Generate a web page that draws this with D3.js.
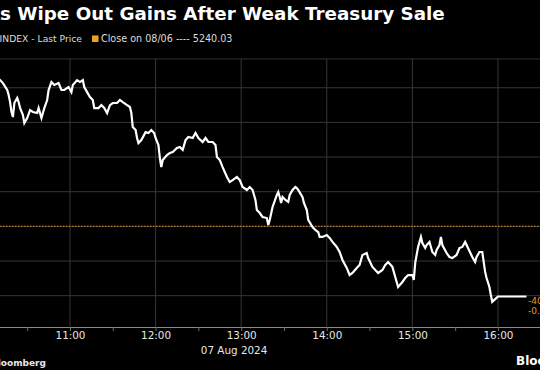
<!DOCTYPE html>
<html lang="en">
<head>
    <meta charset="UTF-8">
    <script src="https://cdnjs.cloudflare.com/ajax/libs/d3/7.8.5/d3.min.js"></script>
    <title>SPX intraday</title>
    <style>
        html, body {
            margin: 0;
            padding: 0;
            background: #000;
            overflow: hidden;
        }
        svg {
            display: block;
            font-family: "DejaVu Sans", sans-serif;
        }
    </style>
</head>
<body>
    <div class="fig"></div>

    <script>
        // Chart data (SPX, 7 Aug 2024, intraday)
        const times = [
            "10:10", "10:11", "10:13", "10:16", "10:17", "10:18", "10:19", "10:20", "10:21", "10:23",
            "10:24", "10:25", "10:27", "10:28", "10:30", "10:32", "10:34", "10:37", "10:38", "10:40",
            "10:41", "10:42", "10:44", "10:45", "10:47", "10:49", "10:52", "10:54", "10:56", "10:59",
            "11:01", "11:02", "11:05", "11:07", "11:09", "11:10", "11:12", "11:14", "11:16", "11:17",
            "11:20", "11:22", "11:24", "11:26", "11:28", "11:30", "11:33", "11:35", "11:37", "11:40",
            "11:42", "11:43", "11:44", "11:46", "11:47", "11:48", "11:50", "11:53", "11:55", "11:57",
            "11:59", "12:00", "12:02", "12:03", "12:04", "12:05", "12:08", "12:10", "12:12", "12:15",
            "12:17", "12:19", "12:21", "12:23", "12:26", "12:28", "12:30", "12:33", "12:35", "12:37",
            "12:40", "12:42", "12:43", "12:45", "12:47", "12:50", "12:52", "12:54", "12:57", "12:59",
            "13:01", "13:04", "13:06", "13:08", "13:10", "13:11", "13:13", "13:15", "13:18", "13:19",
            "13:20", "13:22", "13:25", "13:26", "13:27", "13:28", "13:29", "13:31", "13:33", "13:34",
            "13:36", "13:38", "13:39", "13:40", "13:43", "13:44", "13:46", "13:47", "13:50", "13:52",
            "13:54", "13:55", "13:57", "14:00", "14:02", "14:04", "14:07", "14:09", "14:11", "14:14",
            "14:16", "14:18", "14:21", "14:23", "14:25", "14:28", "14:29", "14:32", "14:34", "14:36",
            "14:39", "14:41", "14:43", "14:46", "14:48", "14:50", "14:53", "14:55", "14:57", "15:00",
            "15:01", "15:02", "15:04", "15:05", "15:06", "15:07", "15:09", "15:10", "15:12", "15:14",
            "15:16", "15:17", "15:19", "15:20", "15:21", "15:24", "15:26", "15:28", "15:31", "15:33",
            "15:35", "15:37", "15:39", "15:42", "15:44", "15:45", "15:47", "15:49", "15:51", "15:52",
            "15:54", "15:55", "15:56", "15:59", "16:00", "16:20"
        ];
        const prices = [
            5325.0, 5324.4, 5322.7, 5318.7, 5315.8, 5311.7, 5306.0, 5303.1, 5311.2, 5314.1,
            5311.7, 5308.3, 5304.2, 5299.6, 5302.5, 5307.1, 5306.0, 5305.4, 5308.3, 5302.5,
            5305.4, 5308.3, 5312.9, 5318.7, 5323.3, 5321.6, 5322.7, 5318.7, 5318.7, 5320.4,
            5317.5, 5321.6, 5324.4, 5323.3, 5324.4, 5320.4, 5317.5, 5314.6, 5312.9, 5308.3,
            5308.3, 5310.0, 5308.3, 5305.4, 5310.0, 5311.2, 5311.2, 5312.9, 5311.7, 5310.0,
            5308.9, 5305.4, 5297.3, 5295.6, 5291.0, 5288.1, 5289.8, 5294.4, 5293.9, 5295.6,
            5293.9, 5291.0, 5286.9, 5279.4, 5274.2, 5278.3, 5281.2, 5282.3, 5282.9, 5285.2,
            5285.8, 5284.1, 5289.8, 5291.6, 5291.0, 5293.9, 5291.0, 5288.7, 5291.0, 5288.7,
            5288.7, 5286.9, 5280.0, 5278.3, 5274.2, 5268.5, 5265.6, 5266.7, 5268.5, 5266.7,
            5262.7, 5261.0, 5262.7, 5261.0, 5255.2, 5249.4, 5247.7, 5245.4, 5244.8, 5240.8,
            5243.7, 5251.2, 5258.1, 5259.8, 5256.9, 5253.5, 5256.9, 5255.2, 5254.1, 5258.1,
            5261.0, 5262.7, 5262.1, 5261.0, 5256.9, 5253.5, 5249.4, 5243.7, 5239.6, 5237.9,
            5236.7, 5233.9, 5233.9, 5235.0, 5233.3, 5231.0, 5228.1, 5225.2, 5220.6, 5216.0,
            5211.9, 5213.1, 5216.0, 5217.7, 5223.5, 5224.6, 5221.7, 5216.6, 5214.8, 5213.1,
            5214.8, 5217.7, 5219.4, 5216.6, 5210.8, 5205.0, 5207.9, 5210.2, 5211.9, 5211.9,
            5209.1, 5218.9, 5228.1, 5231.0, 5233.9, 5230.4, 5227.5, 5229.2, 5231.0, 5225.2,
            5223.5, 5226.4, 5229.2, 5233.9, 5229.2, 5224.6, 5222.3, 5221.7, 5223.5, 5227.5,
            5228.1, 5231.0, 5227.5, 5222.3, 5219.4, 5222.3, 5225.2, 5225.2, 5213.7, 5210.2,
            5205.0, 5200.4, 5196.4, 5198.7, 5199.5, 5199.5
        ];

        const prevClose = 5240.03;
        const yTicks = [5200, 5220, 5240, 5260, 5280, 5300, 5320];
        const changeLabels = ["-40.53", "-0.77%"];

        const titleHidden = "US Stock";
        const titleShown = "s Wipe Out Gains After Weak Treasury Sale";
        const seriesLabel = "SPX INDEX - Last Price";
        const closeLabel = "Close on 08/06 ---- 5240.03";
        const dateLabel = "07 Aug 2024";

        const width = 540;
        const height = 370;

        const parseTime = d3.timeParse("%Y-%m-%d %H:%M");
        const day = "2024-08-07 ";
        const data = times.map((t, i) => ({ date: parseTime(day + t), value: prices[i] }));

        const svg = d3.select(".fig").append("svg")
            .attr("width", width)
            .attr("height", height);

        svg.append("rect")
            .attr("width", width)
            .attr("height", height)
            .attr("fill", "#000");

        // plot area (chart is cropped on both sides)
        const plotTop = 59;
        const plotBottom = 327;

        const x = d3.scaleTime()
            .domain([parseTime(day + "09:30"), parseTime(day + "16:20")])
            .range([-58.4, 526.5]);

        const y = d3.scaleLinear()
            .domain([5181.9, 5336.6])
            .range([plotBottom, plotTop]);

        // horizontal grid
        svg.append("g")
            .selectAll("line")
            .data(yTicks)
            .join("line")
            .attr("x1", 0)
            .attr("x2", width)
            .attr("y1", d => y(d))
            .attr("y2", d => y(d))
            .attr("stroke", "#363636")
            .attr("stroke-width", 1);

        svg.append("line")
            .attr("x1", 0)
            .attr("x2", width)
            .attr("y1", plotTop)
            .attr("y2", plotTop)
            .attr("stroke", "#303030");

        // vertical grid on the hours
        const hours = d3.timeHour.range(parseTime(day + "10:00"), parseTime(day + "16:01"));
        svg.append("g")
            .selectAll("line")
            .data(hours)
            .join("line")
            .attr("x1", d => x(d))
            .attr("x2", d => x(d))
            .attr("y1", plotTop)
            .attr("y2", plotBottom)
            .attr("stroke", "#363636")
            .attr("stroke-width", 1);

        // previous close
        svg.append("line")
            .attr("x1", 0)
            .attr("x2", width)
            .attr("y1", y(prevClose))
            .attr("y2", y(prevClose))
            .attr("stroke", "#e0962c")
            .attr("stroke-width", 1)
            .attr("stroke-dasharray", "1.5,1.5");

        // x axis
        const xAxis = d3.axisBottom(x)
            .tickValues(d3.timeMinute.every(30).range(parseTime(day + "09:30"), parseTime(day + "16:01")))
            .tickSize(4)
            .tickFormat(d => d.getMinutes() === 0 ? d3.timeFormat("%H:%M")(d) : "");

        const gx = svg.append("g")
            .attr("transform", `translate(0,${plotBottom})`)
            .call(xAxis);

        gx.select(".domain")
            .attr("stroke", "#8a8a8a")
            .attr("d", `M0,0.5H${width}`);
        gx.selectAll(".tick line").attr("stroke", "#6a6a6a");
        gx.selectAll(".tick text")
            .attr("fill", "#e6e6e6")
            .attr("font-size", 10.4)
            .attr("font-family", "DejaVu Sans")
            .attr("dy", 0)
            .attr("y", 12);

        const xMid = (x.range()[0] + x.range()[1]) / 2;
        svg.append("text")
            .attr("x", xMid)
            .attr("y", 354)
            .attr("text-anchor", "middle")
            .attr("fill", "#e6e6e6")
            .attr("font-size", 10.4)
            .text(dateLabel);

        // price line
        const line = d3.line()
            .x(d => x(d.date))
            .y(d => y(d.value));

        svg.append("path")
            .datum(data)
            .attr("fill", "none")
            .attr("stroke", "#fff")
            .attr("stroke-width", 2.2)
            .attr("stroke-linejoin", "miter")
            .attr("d", line);

        // change labels on the right axis
        svg.append("g")
            .selectAll("text")
            .data(changeLabels)
            .join("text")
            .attr("x", 528)
            .attr("y", (d, i) => y(prices[prices.length - 1]) + 7.5 + i * 9.5)
            .attr("fill", "#e0962c")
            .attr("font-size", 9)
            .text(d => d);

        // title: the picture is cropped, so fit the visible part between x=0 and x=445
        const titleEl = svg.append("text")
            .attr("y", 20)
            .attr("fill", "#fff")
            .attr("font-weight", "bold")
            .attr("font-size", 18);
        titleEl.text(titleShown);
        const shownW = titleEl.node().getComputedTextLength();
        const titleSize = 18 * 445 / shownW;
        titleEl.attr("font-size", titleSize).text(titleHidden);
        const hiddenW = titleEl.node().getComputedTextLength();
        titleEl.attr("x", -hiddenW).text(titleHidden + titleShown);

        svg.append("text")
            .attr("x", 82)
            .attr("y", 42)
            .attr("text-anchor", "end")
            .attr("fill", "#dcdcdc")
            .attr("font-size", 9.2)
            .text(seriesLabel);

        svg.append("rect")
            .attr("x", 92)
            .attr("y", 35.5)
            .attr("width", 6.5)
            .attr("height", 6.5)
            .attr("fill", "#f0a020");

        svg.append("text")
            .attr("x", 101)
            .attr("y", 42)
            .attr("fill", "#dcdcdc")
            .attr("font-size", 9.6)
            .text(closeLabel);

        // footer
        svg.append("text")
            .attr("x", 46)
            .attr("y", 366)
            .attr("text-anchor", "end")
            .attr("fill", "#e6e6e6")
            .attr("font-weight", "bold")
            .attr("font-size", 9)
            .text("Source: Bloomberg");

        svg.append("text")
            .attr("x", 516)
            .attr("y", 365)
            .attr("fill", "#fff")
            .attr("font-weight", "bold")
            .attr("font-size", 12)
            .text("Bloomberg");
    </script>
</body>
</html>
